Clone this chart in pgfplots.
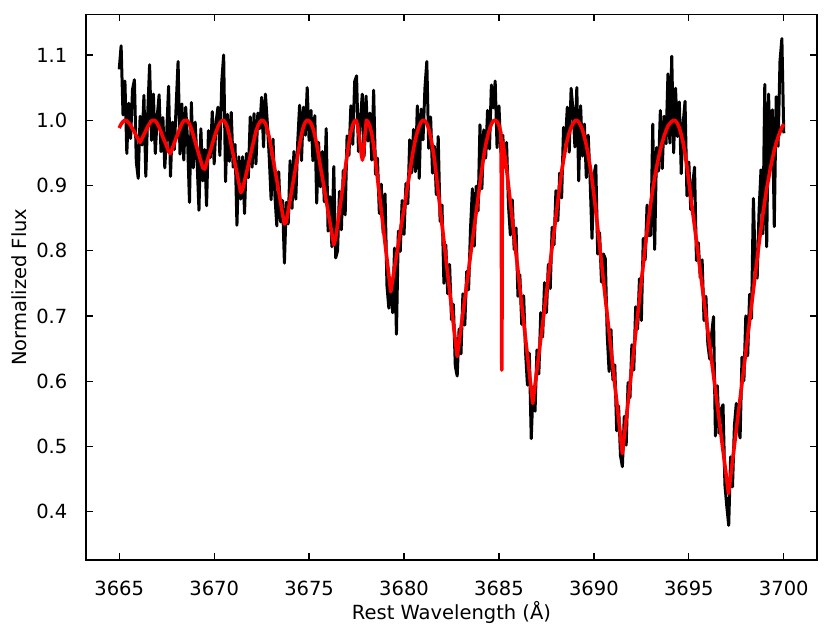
\documentclass[border=0pt]{standalone}
\usepackage{fontspec}
\setmainfont{DejaVu Sans}
\usepackage{pgfplots}
\usepackage{pgfplotstable}
\pgfplotsset{compat=1.18}

\pgfplotstableread{
x y
3665.0 1.078
3665.1 1.114
3665.2 1.008
3665.3 1.060
3665.4 0.949
3665.5 1.026
3665.6 0.972
3665.7 1.047
3665.8 1.062
3665.9 0.936
3666.0 0.911
3666.1 1.006
3666.2 0.962
3666.3 1.038
3666.4 0.914
3666.5 1.010
3666.6 1.085
3666.7 0.969
3666.8 1.040
3666.9 0.949
3667.0 1.005
3667.1 1.039
3667.2 0.952
3667.3 1.004
3667.4 0.927
3667.5 0.980
3667.6 1.052
3667.7 0.914
3667.8 0.997
3667.9 0.955
3668.0 1.023
3668.1 1.090
3668.2 0.948
3668.3 1.025
3668.4 0.939
3668.5 1.020
3668.6 0.969
3668.7 0.874
3668.8 1.027
3668.9 0.927
3669.0 0.997
3669.1 0.937
3669.2 0.862
3669.3 0.987
3669.4 0.907
3669.5 0.955
3669.6 0.869
3669.7 0.984
3669.8 0.943
3669.9 1.013
3670.0 0.933
3670.1 0.997
3670.2 1.020
3670.3 0.946
3670.4 1.059
3670.5 1.100
3670.6 0.906
3670.7 1.009
3670.8 0.937
3670.9 1.012
3671.0 0.928
3671.1 0.963
3671.2 0.839
3671.3 0.944
3671.4 0.879
3671.5 0.944
3671.6 0.857
3671.7 0.949
3671.8 0.912
3671.9 1.005
3672.0 0.928
3672.1 1.010
3672.2 0.933
3672.3 1.011
3672.4 0.987
3672.5 1.035
3672.6 0.959
3672.7 1.040
3672.8 0.996
3672.9 0.944
3673.0 0.878
3673.1 0.971
3673.2 0.884
3673.3 0.838
3673.4 0.921
3673.5 0.844
3673.6 0.877
3673.7 0.781
3673.8 0.874
3673.9 0.841
3674.0 0.938
3674.1 0.865
3674.2 0.952
3674.3 0.879
3674.4 0.966
3674.5 1.023
3674.6 0.938
3674.7 1.020
3674.8 0.977
3674.9 1.050
3675.0 0.969
3675.1 1.015
3675.2 0.938
3675.3 1.007
3675.4 0.873
3675.5 0.966
3675.6 0.898
3675.7 0.952
3675.8 0.875
3675.9 0.987
3676.0 0.830
3676.1 0.883
3676.2 0.806
3676.3 0.929
3676.4 0.789
3676.5 0.800
3676.6 0.891
3676.7 0.832
3676.8 0.923
3676.9 0.855
3677.0 0.976
3677.1 0.946
3677.2 1.022
3677.3 0.963
3677.4 1.059
3677.5 1.068
3677.6 0.952
3677.7 0.998
3677.8 1.040
3677.9 0.945
3678.0 1.037
3678.1 0.968
3678.2 1.011
3678.3 0.939
3678.4 1.046
3678.5 0.917
3678.6 0.942
3678.7 0.857
3678.8 0.902
3678.9 0.827
3679.0 0.887
3679.1 0.747
3679.2 0.712
3679.3 0.757
3679.4 0.705
3679.5 0.804
3679.6 0.672
3679.7 0.830
3679.8 0.799
3679.9 0.877
3680.0 0.825
3680.1 0.903
3680.2 0.872
3680.3 0.970
3680.4 0.919
3680.5 0.986
3680.6 0.921
3680.7 1.022
3680.8 0.911
3680.9 1.017
3681.0 0.970
3681.1 1.049
3681.2 1.090
3681.3 0.957
3681.4 1.005
3681.5 0.919
3681.6 0.960
3681.7 0.886
3681.8 0.975
3681.9 0.845
3682.0 0.870
3682.1 0.750
3682.2 0.809
3682.3 0.734
3682.4 0.779
3682.5 0.694
3682.6 0.718
3682.7 0.623
3682.8 0.608
3682.9 0.680
3683.0 0.642
3683.1 0.734
3683.2 0.686
3683.3 0.768
3683.4 0.740
3683.5 0.833
3683.6 0.895
3683.7 0.807
3683.8 0.899
3683.9 0.861
3684.0 0.993
3684.1 0.895
3684.2 0.985
3684.3 0.942
3684.4 1.015
3684.5 0.956
3684.6 1.054
3684.7 1.019
3684.8 1.060
3684.9 0.958
3685.0 1.022
3685.1 0.951
3685.2 0.977
3685.3 0.928
3685.4 0.966
3685.5 0.870
3685.6 0.824
3685.7 0.878
3685.8 0.802
3685.9 0.835
3686.0 0.730
3686.1 0.763
3686.2 0.687
3686.3 0.731
3686.4 0.645
3686.5 0.594
3686.6 0.643
3686.7 0.512
3686.8 0.591
3686.9 0.554
3687.0 0.648
3687.1 0.611
3687.2 0.705
3687.3 0.668
3687.4 0.751
3687.5 0.705
3687.6 0.779
3687.7 0.742
3687.8 0.836
3687.9 0.809
3688.0 0.892
3688.1 0.846
3688.2 0.919
3688.3 0.881
3688.4 0.989
3688.5 0.966
3688.6 1.020
3688.7 0.951
3688.8 1.049
3688.9 1.015
3689.0 0.959
3689.1 1.050
3689.2 0.907
3689.3 1.022
3689.4 0.945
3689.5 0.994
3689.6 0.912
3689.7 0.977
3689.8 0.909
3689.9 0.819
3690.0 0.916
3690.1 0.931
3690.2 0.795
3690.3 0.828
3690.4 0.752
3690.5 0.795
3690.6 0.788
3690.7 0.672
3690.8 0.615
3690.9 0.679
3691.0 0.602
3691.1 0.625
3691.2 0.524
3691.3 0.562
3691.4 0.486
3691.5 0.469
3691.6 0.546
3691.7 0.502
3691.8 0.598
3691.9 0.575
3692.0 0.656
3692.1 0.617
3692.2 0.714
3692.3 0.680
3692.4 0.757
3692.5 0.693
3692.6 0.819
3692.7 0.786
3692.8 0.870
3692.9 0.823
3693.0 0.824
3693.1 0.994
3693.2 0.802
3693.3 0.958
3693.4 0.922
3693.5 1.015
3693.6 0.926
3693.7 1.006
3693.8 0.964
3693.9 1.071
3694.0 0.965
3694.1 1.098
3694.2 0.950
3694.3 1.049
3694.4 0.975
3694.5 1.028
3694.6 0.918
3694.7 0.995
3694.8 1.029
3694.9 0.884
3695.0 0.936
3695.1 0.863
3695.2 0.900
3695.3 0.928
3695.4 0.785
3695.5 0.812
3695.6 0.759
3695.7 0.786
3695.8 0.693
3695.9 0.730
3696.0 0.657
3696.1 0.634
3696.2 0.672
3696.3 0.699
3696.4 0.516
3696.5 0.593
3696.6 0.520
3696.7 0.557
3696.8 0.564
3696.9 0.441
3697.0 0.408
3697.1 0.379
3697.2 0.484
3697.3 0.438
3697.4 0.532
3697.5 0.566
3697.6 0.530
3697.7 0.513
3697.8 0.637
3697.9 0.601
3698.0 0.700
3698.1 0.639
3698.2 0.733
3698.3 0.696
3698.4 0.880
3698.5 0.774
3698.6 0.758
3698.7 0.862
3698.8 0.924
3698.9 0.826
3699.0 1.055
3699.1 0.806
3699.2 1.040
3699.3 0.930
3699.4 1.016
3699.5 0.837
3699.6 1.036
3699.7 0.960
3699.8 1.090
3699.9 1.125
3700.0 0.980
}\observed

\pgfplotstableread{
x y
3665.0 0.988
3665.1 0.994
3665.2 0.998
3665.3 1.000
3665.4 0.999
3665.5 0.996
3665.6 0.992
3665.7 0.987
3665.8 0.982
3665.9 0.976
3666.0 0.971
3666.1 0.966
3666.2 0.972
3666.3 0.978
3666.4 0.984
3666.5 0.990
3666.6 0.995
3666.7 0.999
3666.8 1.000
3666.9 0.999
3667.0 0.995
3667.1 0.989
3667.2 0.982
3667.3 0.974
3667.4 0.967
3667.5 0.960
3667.6 0.952
3667.7 0.949
3667.8 0.957
3667.9 0.965
3668.0 0.973
3668.1 0.980
3668.2 0.988
3668.3 0.995
3668.4 0.999
3668.5 1.000
3668.6 0.999
3668.7 0.994
3668.8 0.987
3668.9 0.977
3669.0 0.967
3669.1 0.957
3669.2 0.947
3669.3 0.937
3669.4 0.927
3669.5 0.925
3669.6 0.934
3669.7 0.944
3669.8 0.953
3669.9 0.963
3670.0 0.973
3670.1 0.982
3670.2 0.990
3670.3 0.996
3670.4 0.999
3670.5 1.000
3670.6 0.996
3670.7 0.989
3670.8 0.977
3670.9 0.962
3671.0 0.948
3671.1 0.933
3671.2 0.919
3671.3 0.904
3671.4 0.889
3671.5 0.894
3671.6 0.907
3671.7 0.919
3671.8 0.932
3671.9 0.945
3672.0 0.958
3672.1 0.970
3672.2 0.983
3672.3 0.991
3672.4 0.997
3672.5 1.000
3672.6 0.999
3672.7 0.995
3672.8 0.986
3672.9 0.974
3673.0 0.958
3673.1 0.941
3673.2 0.924
3673.3 0.908
3673.4 0.891
3673.5 0.874
3673.6 0.857
3673.7 0.841
3673.8 0.844
3673.9 0.861
3674.0 0.878
3674.1 0.895
3674.2 0.912
3674.3 0.929
3674.4 0.946
3674.5 0.963
3674.6 0.978
3674.7 0.990
3674.8 0.997
3674.9 1.000
3675.0 0.999
3675.1 0.995
3675.2 0.988
3675.3 0.977
3675.4 0.963
3675.5 0.946
3675.6 0.928
3675.7 0.912
3675.8 0.895
3675.9 0.877
3676.0 0.860
3676.1 0.843
3676.2 0.826
3676.3 0.809
3676.4 0.819
3676.5 0.840
3676.6 0.861
3676.7 0.882
3676.8 0.903
3676.9 0.925
3677.0 0.946
3677.1 0.966
3677.2 0.982
3677.3 0.993
3677.4 0.999
3677.47 1.000
3677.55 0.993
3677.65 0.973
3677.75 0.948
3677.81 0.939
3677.87 0.950
3677.95 0.980
3678.02 1.000
3678.1 0.998
3678.2 0.991
3678.3 0.979
3678.4 0.961
3678.5 0.937
3678.6 0.912
3678.7 0.887
3678.8 0.862
3678.9 0.837
3679.0 0.812
3679.1 0.787
3679.2 0.762
3679.3 0.737
3679.4 0.755
3679.5 0.774
3679.6 0.792
3679.7 0.810
3679.8 0.829
3679.9 0.847
3680.0 0.865
3680.1 0.883
3680.2 0.902
3680.3 0.920
3680.4 0.939
3680.5 0.956
3680.6 0.971
3680.7 0.982
3680.8 0.991
3680.9 0.997
3681.0 1.000
3681.1 0.999
3681.2 0.995
3681.3 0.987
3681.4 0.975
3681.5 0.959
3681.6 0.940
3681.7 0.916
3681.8 0.890
3681.9 0.865
3682.0 0.840
3682.1 0.815
3682.2 0.789
3682.3 0.764
3682.4 0.739
3682.5 0.714
3682.6 0.688
3682.7 0.663
3682.8 0.638
3682.9 0.660
3683.0 0.682
3683.1 0.704
3683.2 0.726
3683.3 0.748
3683.4 0.770
3683.5 0.793
3683.6 0.815
3683.7 0.837
3683.8 0.859
3683.9 0.881
3684.0 0.903
3684.1 0.925
3684.2 0.945
3684.3 0.962
3684.4 0.975
3684.5 0.986
3684.6 0.994
3684.7 0.999
3684.8 1.000
3684.9 0.998
3685.0 0.992
3685.1 0.981
3685.12 0.950
3685.15 0.617
3685.18 0.950
3685.2 0.967
3685.3 0.948
3685.4 0.926
3685.5 0.900
3685.6 0.874
3685.7 0.848
3685.8 0.822
3685.9 0.795
3686.0 0.770
3686.1 0.743
3686.2 0.717
3686.3 0.691
3686.4 0.665
3686.5 0.639
3686.6 0.613
3686.7 0.587
3686.78 0.566
3686.8 0.571
3686.9 0.594
3687.0 0.618
3687.1 0.641
3687.2 0.665
3687.3 0.688
3687.4 0.711
3687.5 0.735
3687.6 0.759
3687.7 0.782
3687.8 0.806
3687.9 0.829
3688.0 0.852
3688.1 0.876
3688.2 0.899
3688.3 0.921
3688.4 0.939
3688.5 0.956
3688.6 0.970
3688.7 0.981
3688.8 0.989
3688.9 0.995
3689.0 0.999
3689.1 1.000
3689.2 0.997
3689.3 0.992
3689.4 0.985
3689.5 0.974
3689.6 0.962
3689.7 0.947
3689.8 0.929
3689.9 0.909
3690.0 0.886
3690.1 0.861
3690.2 0.835
3690.3 0.808
3690.4 0.782
3690.5 0.755
3690.6 0.728
3690.7 0.702
3690.8 0.675
3690.9 0.649
3691.0 0.622
3691.1 0.595
3691.2 0.569
3691.3 0.542
3691.4 0.516
3691.5 0.489
3691.6 0.516
3691.7 0.542
3691.8 0.568
3691.9 0.595
3692.0 0.621
3692.1 0.647
3692.2 0.674
3692.3 0.700
3692.4 0.727
3692.5 0.753
3692.6 0.779
3692.7 0.806
3692.8 0.830
3692.9 0.853
3693.0 0.874
3693.1 0.894
3693.2 0.912
3693.3 0.928
3693.4 0.942
3693.5 0.955
3693.6 0.966
3693.7 0.976
3693.8 0.984
3693.9 0.991
3694.0 0.995
3694.1 0.998
3694.2 1.000
3694.3 0.999
3694.4 0.995
3694.5 0.988
3694.6 0.978
3694.7 0.965
3694.8 0.949
3694.9 0.929
3695.0 0.906
3695.1 0.883
3695.2 0.860
3695.3 0.838
3695.4 0.815
3695.5 0.792
3695.6 0.769
3695.7 0.746
3695.8 0.723
3695.9 0.700
3696.0 0.677
3696.1 0.654
3696.2 0.632
3696.3 0.609
3696.4 0.586
3696.5 0.563
3696.6 0.540
3696.7 0.517
3696.8 0.494
3696.9 0.471
3697.0 0.448
3697.09 0.428
3697.2 0.454
3697.3 0.478
3697.4 0.502
3697.5 0.526
3697.6 0.550
3697.7 0.573
3697.8 0.597
3697.9 0.621
3698.0 0.645
3698.1 0.669
3698.2 0.693
3698.3 0.716
3698.4 0.740
3698.5 0.764
3698.6 0.788
3698.7 0.812
3698.8 0.834
3698.9 0.856
3699.0 0.876
3699.1 0.895
3699.2 0.911
3699.3 0.927
3699.4 0.941
3699.5 0.954
3699.6 0.965
3699.7 0.974
3699.8 0.982
3699.9 0.989
3700.0 0.994
}\model

\begin{document}
\fontsize{19.5}{23.4}\selectfont
\begin{tikzpicture}
\begin{axis}[
  scale only axis,
  width=731pt, height=545.5pt,
  xmin=3663.25, xmax=3701.75,
  ymin=0.326, ymax=1.162,
  xtick={3665,3670,3675,3680,3685,3690,3695,3700},
  ytick={0.4,0.5,0.6,0.7,0.8,0.9,1.0,1.1},
  minor tick num=0,
  tick align=inside,
  major tick length=7pt,
  axis line style={line width=1.3pt},
  tick style={black, line width=1.3pt},
  /pgf/number format/assume math mode=true,
  x tick label style={/pgf/number format/1000 sep={}, anchor=base, yshift=-35pt},
  y tick label style={/pgf/number format/fixed, /pgf/number format/fixed zerofill, /pgf/number format/precision=1, anchor=east, xshift=-12pt},
]
\addplot[black, line width=3pt, line join=round] table[x=x, y=y] {\observed};
\addplot[red, line width=3.6pt, line join=round] table[x=x, y=y] {\model};
\end{axis}
\node[rotate=90, anchor=south] at ([xshift=-52.5pt]current axis.west) {Normalized Flux};
\node[anchor=base] at ([yshift=-59pt]current axis.south) {Rest Wavelength (Å)};
\path (current axis.south west) ++(-86pt,-73pt) rectangle ++(831pt,633pt);
\end{tikzpicture}
\end{document}
